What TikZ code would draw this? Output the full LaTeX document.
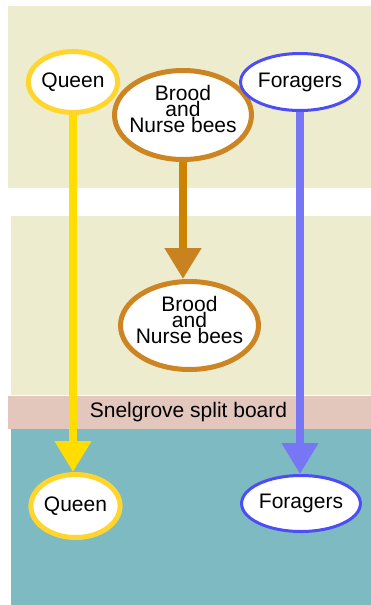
\documentclass[tikz,border=0pt]{standalone}
\usepackage{fontspec}
\setmainfont{Liberation Sans}
\usetikzlibrary{arrows.meta,shapes.geometric}
\definecolor{khaki}{HTML}{EEECCE}
\definecolor{board}{HTML}{E4C7BC}
\definecolor{pool}{HTML}{7EBAC1}
\definecolor{queenedge}{HTML}{FFD52E}
\definecolor{queenline}{HTML}{FFDD00}
\definecolor{broodedge}{HTML}{CD8422}
\definecolor{broodline}{HTML}{CC8400}
\definecolor{broodhead}{HTML}{C98220}
\definecolor{foredge}{HTML}{4D4DF5}
\definecolor{forline}{HTML}{7777F6}
\tikzset{
  beefont/.style={font=\fontsize{21}{16}\selectfont},
  bee/.style={ellipse, fill=white, inner sep=0pt, align=center, beefont},
  queenbox/.style={bee, draw=queenedge, line width=5pt, minimum width=81pt, minimum height=61pt},
  broodbox/.style={bee, draw=broodedge, line width=5pt, minimum width=137pt, minimum height=89pt},
  broodtext/.style={yshift=6.5pt, align=center, inner sep=0pt, beefont},
  foragerbox/.style={bee, draw=foredge, line width=3pt, minimum width=105pt, minimum height=57pt},
  flow/.style={line width=7.5pt, -{Triangle[width=35pt,length=31pt]}},
  region/.style={draw=none}
}
\begin{document}
\begin{tikzpicture}[x=1pt,y=-1pt]
\useasboundingbox (0,0) rectangle (371,605);
% boxes
\fill[khaki] (8,6) rectangle (371,188);
\fill[khaki] (11,216) rectangle (371,395);
\fill[pool] (11,429) rectangle (371,605);
\node[region, fill=board, minimum width=363pt, minimum height=33pt, inner sep=0pt,
  anchor=north west] (split) at (8,396) {};
\node[beefont, inner sep=0pt] (splitlabel) at (188.5,412.5) {Snelgrove split board};
% nodes
\node[queenbox] (qtop) at (73,82) {Queen};
\node[broodbox, label={[broodtext]center:Brood\\and\\Nurse bees}] (btop) at (183,115) {};
\node[foragerbox] (ftop) at (300,82) {Foragers};
\node[broodbox, minimum width=138pt, minimum height=88pt,
  label={[broodtext, yshift=-0.5pt]center:Brood\\and\\Nurse bees}] (bmid) at (189.5,325.5) {};
\node[queenbox, minimum width=82pt, minimum height=63pt] (qbot) at (75.5,506) {Queen};
\node[foragerbox, minimum height=56pt] (fbot) at (301,503.5) {Foragers};
% connectors
\draw[flow, draw=queenline, fill=queenline] (qtop.south) -- (qtop.south |- qbot.north);
\draw[flow, line width=8pt, draw=broodline, -{Triangle[width=35pt,length=31pt,color=broodhead]}] (btop.south) -- (btop.south |- bmid.north);
\draw[flow, draw=forline, fill=forline] (ftop.south) -- (ftop.south |- fbot.north);
\end{tikzpicture}
\end{document}
